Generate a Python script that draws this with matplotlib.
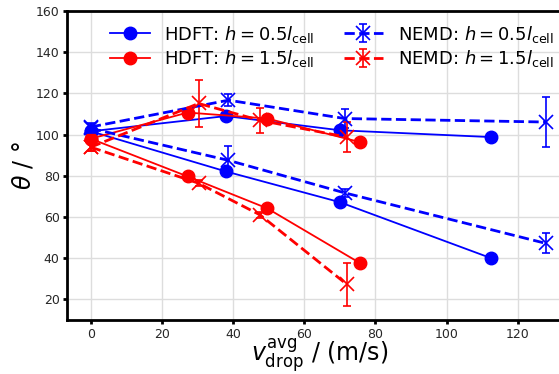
import matplotlib
matplotlib.use('Agg')
import matplotlib.pyplot as plt

# HDFT results (two branches each, sharing the v=0 point)
hdft_05_x = [0, 38.0, 70.0, 112.4]
hdft_05_up = [101.6, 109.0, 102.1, 98.8]
hdft_05_lo = [101.6, 82.1, 67.2, 40.1]
hdft_15_x = [0, 27.2, 49.6, 75.6]
hdft_15_up = [98.0, 110.7, 107.8, 96.4]
hdft_15_lo = [98.0, 79.7, 64.2, 37.7]

# NEMD results with error bars
nemd_05_x = [0, 38.7, 71.4, 127.9]
nemd_05_up = [103.7, 116.7, 107.8, 106.1]
nemd_05_up_err = [2.0, 3.0, 4.5, 12.3]
nemd_05_lo = [103.0, 87.5, 71.7, 47.2]
nemd_05_lo_err = [2.0, 6.8, 2.0, 4.9]
nemd_15_x = [0, 30.3, 47.6, 71.9]
nemd_15_up = [93.9, 115.1, 106.9, 98.8]
nemd_15_up_err = [2.0, 11.2, 6.0, 7.3]
nemd_15_lo = [93.9, 76.4, 61.0, 27.4]
nemd_15_lo_err = [2.0, 1.5, 1.5, 10.4]

plt.rcParams['font.family'] = ['DejaVu Sans']
plt.rcParams['mathtext.fontset'] = 'dejavusans'

fig = plt.figure(figsize=(5.59, 3.74), dpi=100)
ax = fig.add_axes([0.1204, 0.1444, 0.9011, 0.8262])

ms = 9
l1, = ax.plot(hdft_05_x, hdft_05_up, '-o', color='blue', lw=1.3, ms=ms,
              label=r'HDFT: $h=0.5l_{\mathrm{cell}}$')
ax.plot(hdft_05_x, hdft_05_lo, '-o', color='blue', lw=1.3, ms=ms)
l2, = ax.plot(hdft_15_x, hdft_15_up, '-o', color='red', lw=1.3, ms=ms,
              label=r'HDFT: $h=1.5l_{\mathrm{cell}}$')
ax.plot(hdft_15_x, hdft_15_lo, '-o', color='red', lw=1.3, ms=ms)

ekw = dict(marker='x', ms=10, mew=1.2, ls='--', lw=2, capsize=3, elinewidth=1.2, capthick=1.2)
e1 = ax.errorbar(nemd_05_x, nemd_05_up, yerr=nemd_05_up_err, color='blue',
                 label=r'NEMD: $h=0.5l_{\mathrm{cell}}$', **ekw)
ax.errorbar(nemd_05_x, nemd_05_lo, yerr=nemd_05_lo_err, color='blue', **ekw)
e2 = ax.errorbar(nemd_15_x, nemd_15_up, yerr=nemd_15_up_err, color='red',
                 label=r'NEMD: $h=1.5l_{\mathrm{cell}}$', **ekw)
ax.errorbar(nemd_15_x, nemd_15_lo, yerr=nemd_15_lo_err, color='red', **ekw)

ax.set_xlim(-6.6, 135)
ax.set_ylim(10, 160)
ax.set_xticks([0, 20, 40, 60, 80, 100, 120])
ax.set_yticks([20, 40, 60, 80, 100, 120, 140, 160])
ax.grid(True, color='#dddddd', lw=1)
ax.set_axisbelow(True)
for s in ['left', 'bottom', 'top']:
    ax.spines[s].set_linewidth(2)
    ax.spines[s].set_color('black')
ax.spines['right'].set_visible(False)
ax.tick_params(direction='out', length=3, width=2, pad=2.5, colors='black',
               labelcolor='#262626', labelsize=9)

ax.set_xlabel(r'$v_{\mathrm{drop}}^{\mathrm{avg}}$ / (m/s)', fontsize=17, labelpad=-3)
ax.set_ylabel(r'$\theta$ / °', fontsize=17, labelpad=0)

ax.legend(handles=[l1, l2, e1, e2], ncol=2, loc='upper left',
          bbox_to_anchor=(0.06, 1.0), fontsize=13, frameon=False,
          handlelength=2.2, columnspacing=1.6, handletextpad=0.8,
          labelspacing=0.2, borderaxespad=0.3)

fig.savefig('out.png', dpi=100)
